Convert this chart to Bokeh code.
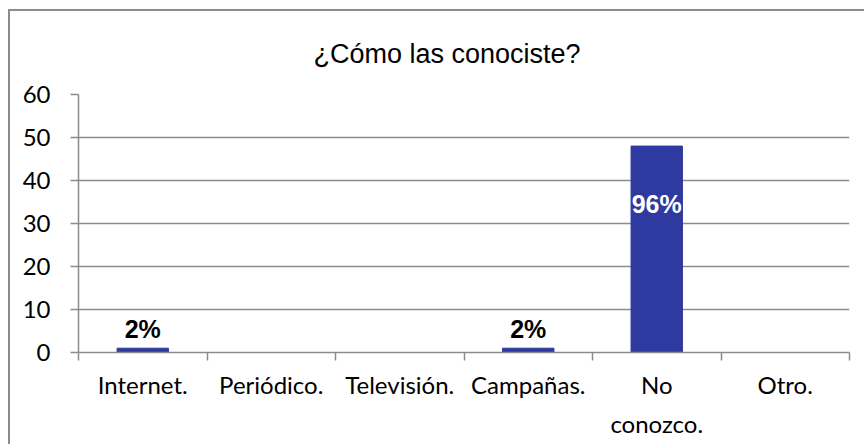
from bokeh.plotting import figure
from bokeh.models import (Range1d, FixedTicker, ColumnDataSource, LabelSet, Title)
from bokeh.core.properties import value
from bokeh.embed import file_html
from bokeh.resources import INLINE

title_text = "¿Cómo las conociste?"
categories = ["Internet.", "Periódico.", "Televisión.", "Campañas.", "No conozco.", "Otro."]
tick_labels = ["Internet.", "Periódico.", "Televisión.", "Campañas.", "No\nconozco.", "Otro."]
values = [1, 0, 0, 1, 48, 0]
pct_labels = ["2%", "", "", "2%", "96%", ""]
y_ticks = [0, 10, 20, 30, 40, 50, 60]

BAR = "#2e3a9f"
GRID = "#8c8c8c"
FONT = "Lato"
BOLD_FONT = "Liberation Sans"

n = len(categories)
centers = [i + 0.5 for i in range(n)]

p = figure(x_range=Range1d(0, n), y_range=Range1d(0, y_ticks[-1]),
           width=856, height=435, output_backend="svg", toolbar_location=None,
           min_border_left=68, min_border_right=17,
           min_border_top=82, min_border_bottom=94)
p.styles = {"margin-left": "8px", "margin-top": "9px",
            "border-left": "2px solid #8c8c8c", "border-top": "2px solid #8c8c8c"}
p.outline_line_color = None
p.background_fill_color = "white"
p.border_fill_color = "white"

# title
t = Title(text=title_text, align="left", offset=235, standoff=51,
          text_font="Liberation Sans", text_font_size="27px", text_font_style="normal",
          text_color="#000000")
p.add_layout(t, "above")

# bars
src = ColumnDataSource(dict(x=centers, cat=categories, val=values, lab=pct_labels,
                            yoff=[10 if v < 10 else -67 for v in values],
                            col=["#000000" if v < 10 else "#ffffff" for v in values]))
p.vbar(x="x", top="val", width=0.4, source=src, fill_color=BAR, line_color=BAR)

labels = LabelSet(x="x", y="val", text="lab", source=src, y_offset="yoff",
                  text_align="center", text_baseline="alphabetic",
                  text_font=value(BOLD_FONT), text_font_size=value("25px"),
                  text_font_style="bold", text_color="col")
p.add_layout(labels)

# x axis with boundary ticks
xa = p.xaxis[0]
xa.ticker = FixedTicker(ticks=centers, minor_ticks=list(range(n + 1)))
xa.major_label_overrides = {c: lab for c, lab in zip(centers, tick_labels)}
xa.major_tick_line_color = None
xa.major_tick_out = 0
xa.major_tick_in = 0
xa.minor_tick_out = 8
xa.minor_tick_in = 0
xa.minor_tick_line_color = GRID
xa.minor_tick_line_width = 1.5
xa.axis_line_color = GRID
xa.axis_line_width = 1.5
xa.major_label_standoff = 9
xa.major_label_text_font = FONT
xa.major_label_text_font_size = "24px"
xa.major_label_text_color = "#000000"
xa.major_label_text_line_height = 1.35

# y axis
ya = p.yaxis[0]
ya.ticker = FixedTicker(ticks=y_ticks)
ya.major_tick_out = 8
ya.major_tick_in = 0
ya.minor_tick_line_color = None
ya.major_tick_line_color = GRID
ya.major_tick_line_width = 1.5
ya.axis_line_color = GRID
ya.axis_line_width = 1.5
ya.major_label_standoff = 20
ya.major_label_text_font = FONT
ya.major_label_text_font_size = "24px"
ya.major_label_text_color = "#000000"

p.xgrid.visible = False
p.ygrid.grid_line_color = GRID
p.ygrid.grid_line_width = 1.5
p.ygrid.ticker = FixedTicker(ticks=y_ticks)

open("out.html", "w").write(file_html(p, INLINE))
